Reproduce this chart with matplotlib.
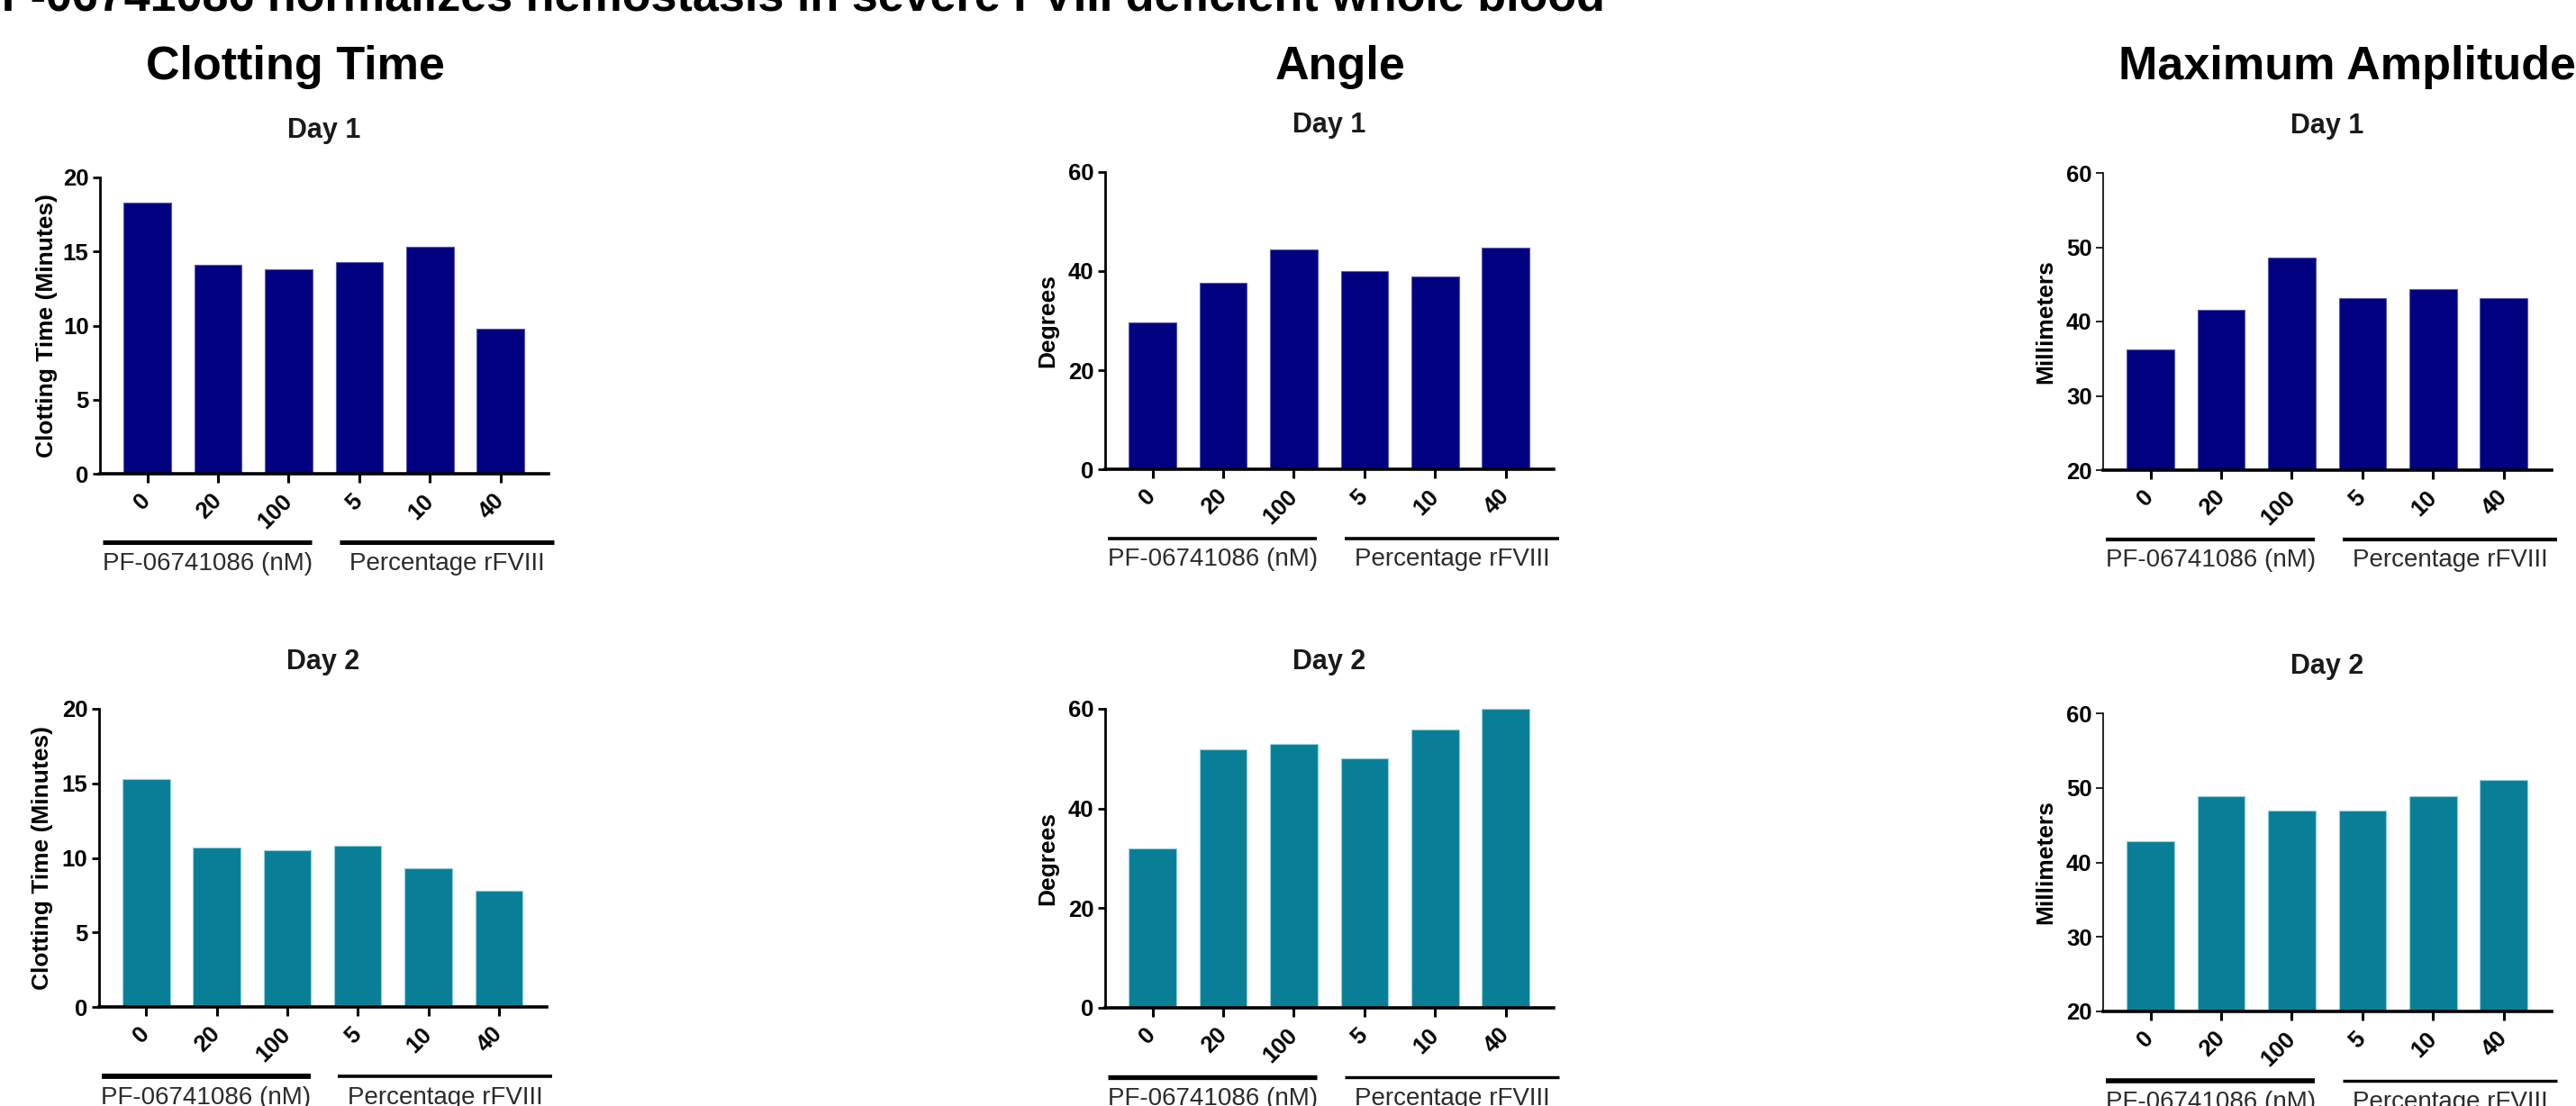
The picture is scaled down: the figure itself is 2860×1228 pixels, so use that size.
import matplotlib
matplotlib.use('Agg')
import matplotlib.pyplot as plt
import matplotlib.transforms as mtransforms
import numpy as np

plt.rcParams['font.family'] = ['Liberation Sans', 'DejaVu Sans']

# Data
conditions = ['0', '20', '100', '5', '10', '40']
groups = ['PF-06741086 (nM)', 'Percentage rFVIII']
group_idx = [(0, 2), (3, 5)]

clot_day1 = [18.3, 14.1, 13.8, 14.3, 15.3, 9.8]
clot_day2 = [15.3, 10.7, 10.5, 10.8, 9.3, 7.8]
angle_day1 = [29.6, 37.6, 44.3, 40.0, 38.9, 44.7]
angle_day2 = [32.0, 51.9, 52.9, 50.1, 55.8, 60.0]
ma_day1 = [36.3, 41.6, 48.6, 43.2, 44.4, 43.2]
ma_day2 = [42.9, 48.9, 47.0, 47.0, 48.9, 51.0]

clot_ticks = [0, 5, 10, 15, 20]
angle_ticks = [0, 20, 40, 60]
ma_ticks = [20, 30, 40, 50, 60]

NAVY, NAVY_EDGE = '#000080', '#5a5ab4'
TEAL, TEAL_EDGE = '#087f96', '#8fd0e0'

# how far each group underline reaches past its first / last bar
GROUP_PAD = [(-0.63, 0.33), (-0.28, 0.76)]

W, H = 2860, 1228
fig = plt.figure(figsize=(W / 100, H / 100), dpi=100)


def add_axes_px(x0, x1, y0, y1):
    return fig.add_axes([x0 / W, 1 - y1 / H, (x1 - x0) / W, (y1 - y0) / H])


def draw_panel(ax, values, color, edge, day, ylabel, yticks, ylw, label_x, group_lws):
    x = np.arange(len(conditions))
    ax.bar(x, values, width=0.67, color=color, edgecolor=edge, linewidth=0.8, zorder=2)
    ax.set_xlim(-0.67, 5.68)
    ax.set_ylim(yticks[0], yticks[-1])
    ax.set_yticks(yticks)
    ax.set_xticks(x)
    ax.set_xticklabels(conditions, rotation=45, ha='right', va='center',
                       rotation_mode='anchor', fontweight='bold', fontsize=18.5)
    ax.set_yticklabels([str(t) for t in yticks], fontweight='bold', fontsize=18.5)

    for side in ['top', 'right']:
        ax.spines[side].set_visible(False)
    ax.spines['bottom'].set_linewidth(2.6)
    ax.spines['left'].set_linewidth(ylw)
    ax.tick_params(axis='x', length=7, width=2.2, pad=12)
    ax.tick_params(axis='y', length=6, width=ylw, pad=3)

    ax.set_ylabel(ylabel, fontsize=19, fontweight='bold')
    ax.yaxis.set_label_coords(label_x, 0.5)
    ax.set_title(day, fontsize=22, fontweight='bold', pad=31.5, color='#1a1a1a')

    # group underlines and labels below the tick labels
    trans = mtransforms.blended_transform_factory(ax.transData, ax.transAxes)
    for (i0, i1), (p0, p1), name, lw in zip(group_idx, GROUP_PAD, groups, group_lws):
        xa, xb = i0 + p0, i1 + p1
        ax.plot([xa, xb], [-0.232, -0.232], transform=trans, color='black', lw=lw,
                clip_on=False, solid_capstyle='butt')
        ax.text((xa + xb) / 2, -0.304, name, transform=trans, ha='center', va='center',
                fontsize=20, color='#2b2b2b')


# Clotting time column
ax = add_axes_px(111, 609, 197, 526)
draw_panel(ax, clot_day1, NAVY, NAVY_EDGE, 'Day 1', 'Clotting Time (Minutes)', clot_ticks, 2.0, -0.095, [3.6, 3.6])
ax = add_axes_px(110, 607, 787, 1118)
draw_panel(ax, clot_day2, TEAL, TEAL_EDGE, 'Day 2', 'Clotting Time (Minutes)', clot_ticks, 2.0, -0.103, [4.2, 2.6])

# Angle column
ax = add_axes_px(1227, 1725, 191, 521)
draw_panel(ax, angle_day1, NAVY, NAVY_EDGE, 'Day 1', 'Degrees', angle_ticks, 2.0, -0.103, [2.6, 2.6])
ax = add_axes_px(1227, 1725, 787, 1119)
draw_panel(ax, angle_day2, TEAL, TEAL_EDGE, 'Day 2', 'Degrees', angle_ticks, 2.0, -0.103, [3.8, 2.4])

# Maximum amplitude column
ax = add_axes_px(2335, 2833, 192, 522)
draw_panel(ax, ma_day1, NAVY, NAVY_EDGE, 'Day 1', 'Millimeters', ma_ticks, 1.2, -0.104, [3.0, 3.0])
ax = add_axes_px(2335, 2833, 792, 1123)
draw_panel(ax, ma_day2, TEAL, TEAL_EDGE, 'Day 2', 'Millimeters', ma_ticks, 1.2, -0.104, [4.0, 2.4])

# Headings
fig.text(1782 / W, 1 - 12 / H, 'PF-06741086 normalizes hemostasis in severe FVIII deficient whole blood',
         ha='right', va='baseline', fontsize=37.5, fontweight='bold')
for xc, name in zip([328, 1488, 2606], ['Clotting Time', 'Angle', 'Maximum Amplitude']):
    fig.text(xc / W, 1 - 88 / H, name, ha='center', va='baseline', fontsize=37.5, fontweight='bold')

fig.savefig('out.png', dpi=100, facecolor='white')
